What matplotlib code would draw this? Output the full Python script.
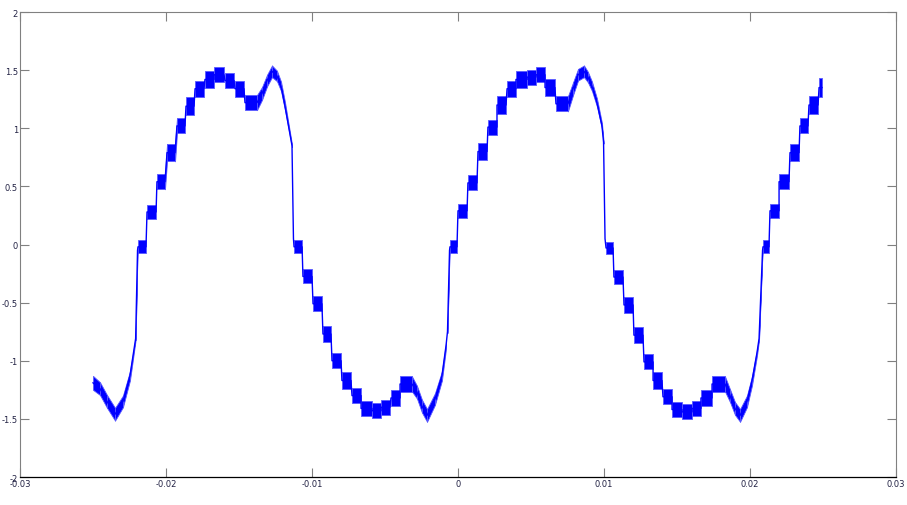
import numpy as np
import matplotlib
matplotlib.use("Agg")
import matplotlib.pyplot as plt

# waveform knots: time (ms), level, half width of the noise band
t_ms = [
    -25.00, -24.52, -24.04, -23.49, -22.95, -22.47, -22.26, -22.08, -21.95,
    -21.92, -21.37, -21.30, -20.68, -20.62, -20.07, -19.93, -19.38, -19.25, -18.70,
    -18.63, -18.08, -18.01, -17.40, -17.33, -16.71, -16.71, -16.03, -15.96, -15.34,
    -15.27, -14.66, -14.59, -13.77,
    -13.42, -13.08, -12.74, -12.40, -12.12, -11.85, -11.64, -11.37, -11.27,
    -11.23, -10.68, -10.62, -10.00, -9.93, -9.32, -9.25, -8.70, -8.63, -8.01,
    -7.95, -7.33, -7.26, -6.64, -6.64, -5.89, -5.89, -5.27, -5.27, -4.66,
    -4.59, -3.97, -3.97, -3.15,
    -2.81, -2.47, -2.12, -1.58, -1.10, -0.82, -0.72, -0.58,
    -0.55, -0.07, 0.00, 0.62, 0.68, 1.30, 1.37, 1.99, 2.05, 2.67,
    2.67, 3.29, 3.36, 3.97, 3.97, 4.73, 4.73, 5.34, 5.34, 5.96,
    5.96, 6.64, 6.71, 7.53,
    7.88, 8.22, 8.63, 8.90, 9.18, 9.52, 9.86, 9.97, 10.07,
    10.14, 10.62, 10.68, 11.30, 11.37, 11.99, 12.05, 12.67, 12.74, 13.36,
    13.36, 13.97, 14.04, 14.66, 14.66, 15.34, 15.34, 16.03, 16.03, 16.64,
    16.64, 17.40, 17.40, 18.29,
    18.63, 18.97, 19.32, 19.79, 20.14, 20.48, 20.62, 20.86,
    20.89, 21.30, 21.37, 21.99, 21.99, 22.67, 22.74, 23.36, 23.42, 23.97,
    24.04, 24.66, 24.73, 24.93,
]
volts = [
    -1.19, -1.24, -1.35, -1.46, -1.35, -1.13, -0.96, -0.81, -0.05,
    -0.02, -0.02, 0.28, 0.28, 0.54, 0.54, 0.79, 0.79, 1.02, 1.02,
    1.19, 1.19, 1.34, 1.34, 1.42, 1.42, 1.46, 1.46, 1.41, 1.41,
    1.34, 1.34, 1.22, 1.22,
    1.30, 1.41, 1.49, 1.45, 1.36, 1.19, 1.04, 0.85, 0.05,
    -0.02, -0.02, -0.275, -0.275, -0.51, -0.51, -0.77, -0.77, -1.00, -1.00,
    -1.17, -1.17, -1.30, -1.30, -1.41, -1.41, -1.43, -1.43, -1.40, -1.40,
    -1.32, -1.32, -1.20, -1.20,
    -1.27, -1.39, -1.47, -1.33, -1.13, -0.87, -0.75, -0.05,
    -0.02, -0.02, 0.29, 0.29, 0.53, 0.53, 0.80, 0.80, 1.01, 1.01,
    1.20, 1.20, 1.34, 1.34, 1.42, 1.42, 1.44, 1.44, 1.46, 1.46,
    1.35, 1.35, 1.21, 1.21,
    1.34, 1.46, 1.49, 1.44, 1.36, 1.22, 1.02, 0.88, 0.05,
    -0.03, -0.03, -0.28, -0.28, -0.52, -0.52, -0.78, -0.78, -1.01, -1.01,
    -1.17, -1.17, -1.31, -1.31, -1.42, -1.42, -1.44, -1.44, -1.41, -1.41,
    -1.32, -1.32, -1.20, -1.20,
    -1.30, -1.41, -1.47, -1.35, -1.17, -0.93, -0.81, -0.05,
    -0.02, -0.02, 0.29, 0.29, 0.54, 0.54, 0.79, 0.79, 1.02, 1.02,
    1.20, 1.20, 1.35, 1.35,
]
spread = [
    0.06, 0.055, 0.055, 0.055, 0.05, 0.04, 0.025, 0.012, 0.005,
    0.055, 0.055, 0.06, 0.06, 0.065, 0.065, 0.075, 0.075, 0.065, 0.065,
    0.075, 0.075, 0.07, 0.07, 0.07, 0.07, 0.065, 0.065, 0.065, 0.065,
    0.07, 0.07, 0.065, 0.065,
    0.055, 0.05, 0.05, 0.045, 0.04, 0.035, 0.025, 0.012, 0.005,
    0.055, 0.055, 0.06, 0.06, 0.065, 0.065, 0.07, 0.07, 0.065, 0.065,
    0.07, 0.07, 0.065, 0.065, 0.065, 0.065, 0.065, 0.065, 0.065, 0.065,
    0.065, 0.065, 0.065, 0.065,
    0.055, 0.055, 0.055, 0.05, 0.04, 0.025, 0.012, 0.005,
    0.055, 0.055, 0.06, 0.06, 0.065, 0.065, 0.075, 0.075, 0.065, 0.065,
    0.075, 0.075, 0.07, 0.07, 0.07, 0.07, 0.065, 0.065, 0.065, 0.065,
    0.07, 0.07, 0.065, 0.065,
    0.055, 0.05, 0.05, 0.045, 0.04, 0.035, 0.025, 0.012, 0.005,
    0.055, 0.055, 0.06, 0.06, 0.065, 0.065, 0.07, 0.07, 0.065, 0.065,
    0.07, 0.07, 0.065, 0.065, 0.065, 0.065, 0.065, 0.065, 0.065, 0.065,
    0.065, 0.065, 0.065, 0.065,
    0.055, 0.055, 0.055, 0.05, 0.04, 0.025, 0.012, 0.005,
    0.055, 0.055, 0.06, 0.06, 0.065, 0.065, 0.075, 0.075, 0.065, 0.065,
    0.075, 0.075, 0.08, 0.08,
]

xticks = [-0.03, -0.02, -0.01, 0, 0.01, 0.02, 0.03]
xlabels = ["-0.03", "-0.02", "-0.01", "0", "0.01", "0.02", "0.03"]
yticks = [-2, -1.5, -1, -0.5, 0, 0.5, 1, 1.5, 2]
ylabels = ["-2", "-1.5", "-1", "-0.5", "0", "0.5", "1", "1.5", "2"]

t = np.array(t_ms) / 1000.0
v = np.array(volts)
s = np.array(spread)

fig = plt.figure(figsize=(9.07, 5.06), dpi=100)
ax = fig.add_axes([20 / 907, 28 / 506, 876 / 907, 465 / 506])

# noise band, one piece per segment; the short jumps between steps stay a thin line
for i in range(len(t) - 1):
    if t_ms[i + 1] - t_ms[i] > 0.1:
        ax.fill_between(t[i:i + 2], v[i:i + 2] - s[i:i + 2], v[i:i + 2] + s[i:i + 2],
                        color="#0000ff", lw=0.6, edgecolor="#5a5aff")
ax.plot(t, v, color="#0000ff", lw=1.0)   # trace

ax.set_xlim(-0.03, 0.03)
ax.set_ylim(-2, 2)
ax.set_xticks(xticks)
ax.set_xticklabels(xlabels)
ax.set_yticks(yticks)
ax.set_yticklabels(ylabels)

ax.tick_params(direction="in", length=6.5, width=0.8, color="#808080",
               labelsize=6, labelcolor="#222244", pad=1.5,
               top=True, right=True)
for side in ["left", "top", "right"]:
    ax.spines[side].set_color("#808080")
    ax.spines[side].set_linewidth(0.8)
ax.spines["bottom"].set_color("black")
ax.spines["bottom"].set_linewidth(0.9)

fig.savefig("out.png", dpi=100)
